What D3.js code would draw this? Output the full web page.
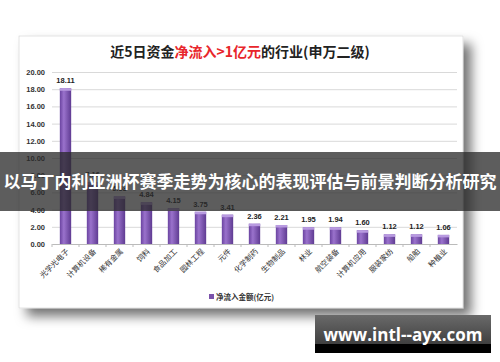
<!DOCTYPE html>
<html>
<head>
<meta charset="utf-8">
<script src="https://cdn.jsdelivr.net/npm/d3@7"></script>
<style>
  html, body { margin: 0; padding: 0; background: #fff; }
  svg { display: block; font-family: "Noto Sans CJK SC", "Noto Sans", sans-serif; }
</style>
</head>
<body>
<main></main>
<script>
// chart data
const industries = ['光学光电子', '计算机设备', '稀有金属', '饲料', '食品加工', '园林工程', '元件',
  '化学制药', '生物制品', '林业', '航空装备', '计算机应用', '服装家纺', '船舶', '种植业'];
const netInflow = [18.11, 7.16, 5.53, 4.84, 4.15, 3.75, 3.41, 2.36, 2.21, 1.95, 1.94, 1.60, 1.12, 1.12, 1.06];
const yTicks = [0, 2, 4, 6, 8, 10, 12, 14, 16, 18, 20];

const width = 500;
const height = 362;
const plotLeft = 52;
const plotRight = 457;
const plotTop = 72;
const plotBottom = 244;

const svg = d3.select('main')
  .append('svg')
  .attr('width', width)
  .attr('height', height);

const defs = svg.append('defs');

// card shadow
const shadow = defs.append('filter')
  .attr('id', 'shadow')
  .attr('x', '-10%').attr('y', '-10%')
  .attr('width', '130%').attr('height', '130%');
shadow.append('feDropShadow')
  .attr('dx', 8).attr('dy', 8)
  .attr('stdDeviation', 6)
  .attr('flood-color', '#000')
  .attr('flood-opacity', 0.55);

// bar gradient
const barGrad = defs.append('linearGradient')
  .attr('id', 'barGrad')
  .attr('x1', 0).attr('x2', 1).attr('y1', 0).attr('y2', 0);
barGrad.append('stop').attr('offset', '0%').attr('stop-color', '#6a43a0');
barGrad.append('stop').attr('offset', '35%').attr('stop-color', '#9a72cc');
barGrad.append('stop').attr('offset', '100%').attr('stop-color', '#5f3b92');

const boxGrad = defs.append('linearGradient')
  .attr('id', 'boxGrad')
  .attr('x1', 0).attr('x2', 0).attr('y1', 0).attr('y2', 1);
boxGrad.append('stop').attr('offset', '0%').attr('stop-color', '#6a6a6a');
boxGrad.append('stop').attr('offset', '100%').attr('stop-color', '#3e3e3e');

// white card
svg.append('rect')
  .attr('x', 19).attr('y', 36)
  .attr('width', 444).attr('height', 272)
  .attr('fill', '#fff')
  .attr('stroke', '#d0d0d0')
  .attr('stroke-width', 0.6)
  .attr('filter', 'url(#shadow)');

// title
const title = svg.append('text')
  .attr('x', 240).attr('y', 57)
  .attr('text-anchor', 'middle')
  .attr('font-size', 14)
  .attr('font-weight', 'bold')
  .attr('fill', '#222');
title.append('tspan').text('近5日资金');
title.append('tspan').attr('fill', '#e8262b').text('净流入>1亿元');
title.append('tspan').text('的行业(申万二级)');

// scales
const xScale = d3.scaleBand()
  .domain(industries)
  .range([plotLeft, plotRight]);

const yScale = d3.scaleLinear()
  .domain([0, 20])
  .range([plotBottom, plotTop]);

// y axis with grid
const yAxis = d3.axisLeft(yScale)
  .tickValues(yTicks)
  .tickFormat(d3.format('.2f'))
  .tickSize(-(plotRight - plotLeft))
  .tickPadding(7);

const yG = svg.append('g')
  .attr('transform', `translate(${plotLeft}, 0)`)
  .call(yAxis);
yG.select('.domain').remove();
yG.selectAll('.tick line').attr('stroke', '#d9d9d9');
yG.selectAll('.tick text')
  .attr('font-size', 7.5)
  .attr('font-weight', 'bold')
  .attr('fill', '#333')
  .attr('font-family', '"Liberation Sans", sans-serif');

// x axis
const xAxis = d3.axisBottom(xScale)
  .tickSize(0)
  .tickFormat('');
const xG = svg.append('g')
  .attr('transform', `translate(0, ${plotBottom})`)
  .call(xAxis);
xG.select('.domain').attr('stroke', '#bbb');

// small ticks between categories
svg.append('g')
  .selectAll('line')
  .data(industries)
  .enter()
  .append('line')
  .attr('x1', d => xScale(d))
  .attr('x2', d => xScale(d))
  .attr('y1', plotBottom)
  .attr('y2', plotBottom + 3)
  .attr('stroke', '#bbb');

// bars
const barWidth = xScale.bandwidth() * 0.42;
const bars = svg.append('g')
  .selectAll('g')
  .data(industries)
  .enter()
  .append('g');

bars.append('rect')
  .attr('x', d => xScale(d) + (xScale.bandwidth() - barWidth) / 2)
  .attr('y', (d, i) => yScale(netInflow[i]))
  .attr('width', barWidth)
  .attr('height', (d, i) => plotBottom - yScale(netInflow[i]))
  .attr('fill', 'url(#barGrad)');

// lighter top cap
bars.append('rect')
  .attr('x', d => xScale(d) + (xScale.bandwidth() - barWidth) / 2)
  .attr('y', (d, i) => yScale(netInflow[i]))
  .attr('width', barWidth)
  .attr('height', 2.5)
  .attr('fill', '#b89ae0');

// value labels
bars.append('text')
  .text((d, i) => netInflow[i].toFixed(2))
  .attr('x', d => xScale(d) + xScale.bandwidth() / 2)
  .attr('y', (d, i) => yScale(netInflow[i]) - 5)
  .attr('text-anchor', 'middle')
  .attr('font-size', 7.5)
  .attr('font-weight', 'bold')
  .attr('fill', '#222')
  .attr('font-family', '"Liberation Sans", sans-serif');

// rotated category labels
svg.append('g')
  .selectAll('text')
  .data(industries)
  .enter()
  .append('text')
  .text(d => d)
  .attr('text-anchor', 'end')
  .attr('font-size', 7.5)
  .attr('fill', '#333')
  .attr('transform', d => `translate(${xScale(d) + xScale.bandwidth() / 2 + 4}, ${plotBottom + 8}) rotate(-45)`);

// legend
svg.append('rect')
  .attr('x', 209).attr('y', 294)
  .attr('width', 5).attr('height', 5)
  .attr('fill', '#7b52ab');
svg.append('text')
  .text('净流入金额(亿元)')
  .attr('x', 216).attr('y', 299.5)
  .attr('font-size', 7.5)
  .attr('font-weight', 'bold')
  .attr('fill', '#333');

// overlay band with headline
svg.append('rect')
  .attr('x', 0).attr('y', 152)
  .attr('width', width).attr('height', 59)
  .attr('fill', '#2a2a2a')
  .attr('opacity', 0.76);
svg.append('text')
  .text('以马丁内利亚洲杯赛季走势为核心的表现评估与前景判断分析研究')
  .attr('x', width / 2).attr('y', 188)
  .attr('text-anchor', 'middle')
  .attr('font-size', 17)
  .attr('font-weight', 'bold')
  .attr('fill', '#fff');

// site box bottom right
svg.append('rect')
  .attr('x', 315).attr('y', 315)
  .attr('width', 176).attr('height', 30)
  .attr('fill', 'url(#boxGrad)');
svg.append('rect')
  .attr('x', 315).attr('y', 344)
  .attr('width', 176).attr('height', 9)
  .attr('fill', '#000');
svg.append('text')
  .text('www.intl--ayx.com')
  .attr('x', 403).attr('y', 341)
  .attr('text-anchor', 'middle')
  .attr('font-size', 17)
  .attr('font-weight', 'bold')
  .attr('fill', '#fff')
  .attr('font-family', '"Open Sans", sans-serif');
</script>
</body>
</html>
